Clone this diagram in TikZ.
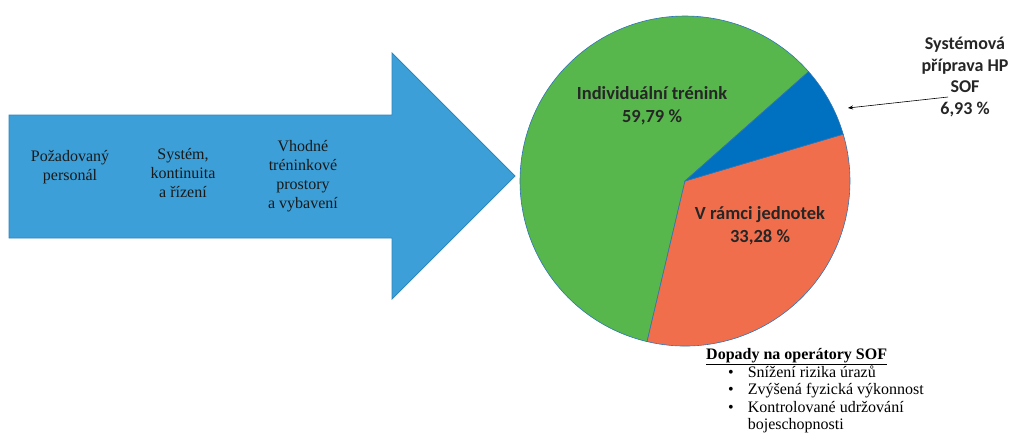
\documentclass[tikz,border=0pt]{standalone}
\usepackage{fontspec}
\setmainfont{Liberation Serif}
\newfontfamily\labelfont{Carlito}
\usetikzlibrary{arrows.meta}
\definecolor{arrowfill}{HTML}{3D9FD7}
\definecolor{arrowedge}{HTML}{2F86C0}
\definecolor{slicegreen}{HTML}{57B74C}
\definecolor{sliceorange}{HTML}{F06E4C}
\definecolor{sliceblue}{HTML}{0070C0}
\definecolor{pieedge}{HTML}{2E75B6}
\tikzset{
  steptext/.style={align=center, font=\fontsize{16}{19}\selectfont, text=black!90, inner sep=0pt},
  slicelabel/.style={align=center, font=\labelfont\bfseries\fontsize{18.5}{23}\selectfont, text=black!85, inner sep=0pt},
  impact/.style={anchor=north west, align=left, font=\fontsize{16}{17.5}\selectfont, inner sep=0pt},
}
\begin{document}
\begin{tikzpicture}[x=1pt,y=-1pt]
\useasboundingbox (0,0) rectangle (1011,432);

% big block arrow
\draw[fill=arrowfill, draw=arrowedge, line width=0.8pt, line join=miter]
  (9,115) -- (392,115) -- (392,53) -- (515,176) -- (392,299) -- (392,238) -- (9,238) -- cycle;
\node[steptext] (personal) at (70,167) {Požadovaný\\personál};
\node[steptext] (system) at (183,173) {Systém,\\kontinuita\\a řízení};
\node[steptext] (space) at (303,176) {Vhodné\\tréninkové\\prostory\\a vybavení};

% pie chart
\coordinate (c) at (685,181);
\def\R{165}
\filldraw[fill=slicegreen, draw=pieedge, line width=0.6pt]
  (c) -- ++(-41.5:\R) arc[start angle=-41.5, end angle=-256.7, radius=\R] -- cycle;
\filldraw[fill=sliceorange, draw=pieedge, line width=0.6pt]
  (c) -- ++(103.3:\R) arc[start angle=103.3, end angle=-16.5, radius=\R] -- cycle;
\filldraw[fill=sliceblue, draw=pieedge, line width=0.6pt]
  (c) -- ++(-16.5:\R) arc[start angle=-16.5, end angle=-41.5, radius=\R] -- cycle;

\node[slicelabel] (indiv) at (652,106) {Individuální trénink\\59,79 \%};
\node[slicelabel] (unit) at (760,226) {V rámci jednotek\\33,28 \%};
\node[slicelabel, font=\labelfont\bfseries\fontsize{18}{21.5}\selectfont] (sof) at (965,77)
  {Systémová\\příprava HP\\SOF\\6,93 \%};

\coordinate (sofstart) at (948,97);
\coordinate (softip) at (848,108);
\draw[-{Stealth[length=5pt,width=4pt]}, line width=0.6pt] (sofstart) -- (softip);

% impacts list
\node[impact, font=\bfseries\fontsize{16}{17.5}\selectfont] (impacttitle) at (706,348)
  {\underline{Dopady na operátory SOF}};
\node[impact] (impactlist) at (728,365)
  {\begin{tabular}{@{}l@{\hspace{14pt}}l@{}}
   \textbullet & Snížení rizika úrazů\\
   \textbullet & Zvýšená fyzická výkonnost\\
   \textbullet & Kontrolované udržování\\
               & bojeschopnosti
   \end{tabular}};
\end{tikzpicture}
\end{document}
